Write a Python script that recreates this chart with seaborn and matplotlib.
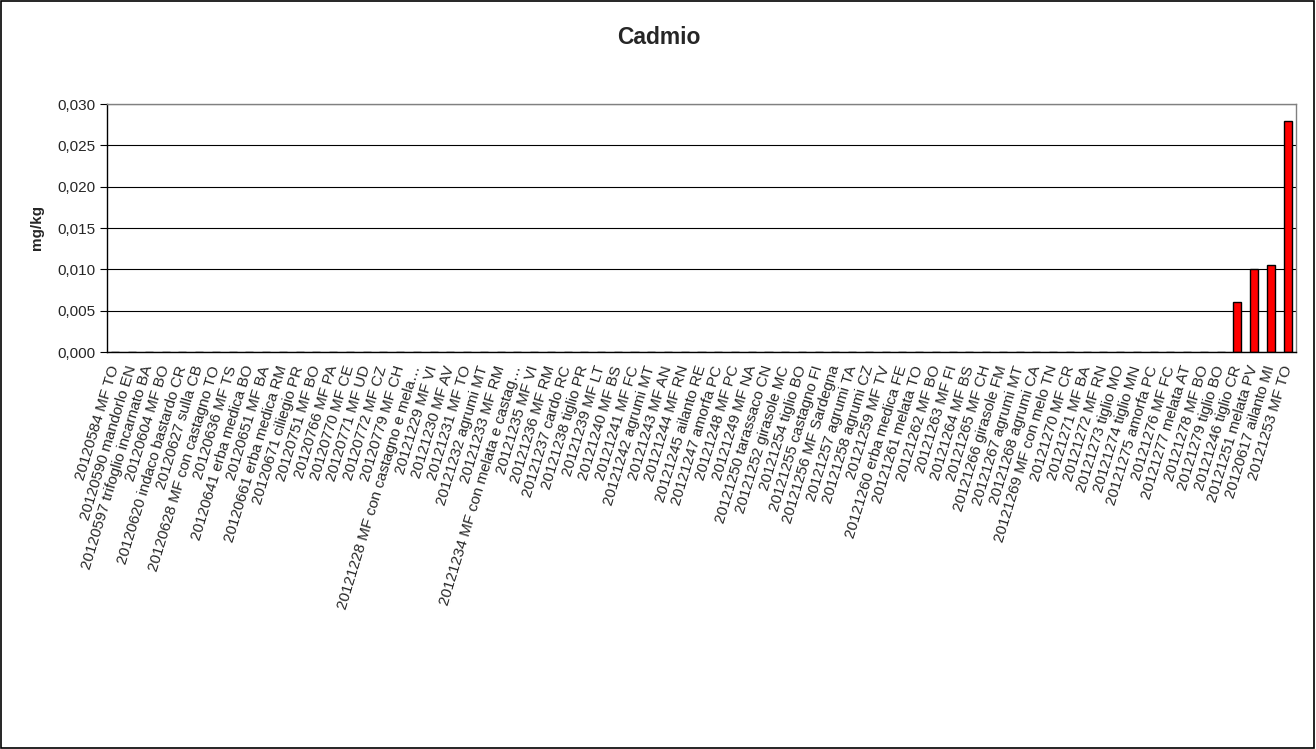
import matplotlib
matplotlib.use("Agg")
import matplotlib.pyplot as plt
import seaborn as sns
import pandas as pd
from matplotlib.patches import Rectangle
from matplotlib.ticker import FuncFormatter, MultipleLocator

campioni = [
    "20120584 MF TO", "20120590 mandorlo EN", "20120597 trifoglio incarnato BA",
    "20120604 MF BO", "20120620 indaco bastardo CR", "20120627 sulla CB",
    "20120628 MF con castagno TO", "20120636 MF TS", "20120641 erba medica BO",
    "20120651 MF BA", "20120661 erba medica RM", "20120671 ciliegio PR",
    "20120751 MF BO", "20120766 MF PA", "20120770 MF CE", "20120771 MF UD",
    "20120772 MF CZ", "20120779 MF CH", "20121228 MF con castagno e mela…",
    "20121229 MF VI", "20121230 MF AV", "20121231 MF TO", "20121232 agrumi MT",
    "20121233 MF RM", "20121234 MF con melata e castag…", "20121235 MF VI",
    "20121236 MF RM", "20121237 cardo RC", "20121238 tiglio PR", "20121239 MF LT",
    "20121240 MF BS", "20121241 MF FC", "20121242 agrumi MT", "20121243 MF AN",
    "20121244 MF RN", "20121245 ailanto RE", "20121247 amorfa PC",
    "20121248 MF PC", "20121249 MF NA", "20121250 tarassaco CN",
    "20121252 girasole MC", "20121254 tiglio BO", "20121255 castagno FI",
    "20121256 MF Sardegna", "20121257 agrumi TA", "20121258 agrumi CZ",
    "20121259 MF TV", "20121260 erba medica FE", "20121261 melata TO",
    "20121262 MF BO", "20121263 MF FI", "20121264 MF BS", "20121265 MF CH",
    "20121266 girasole FM", "20121267 agrumi MT", "20121268 agrumi CA",
    "20121269 MF con melo TN", "20121270 MF CR", "20121271 MF BA",
    "20121272 MF RN", "20121273 tiglio MO", "20121274 tiglio MN",
    "20121275 amorfa PC", "20121276 MF FC", "20121277 melata AT",
    "20121278 MF BO", "20121279 tiglio BO", "20121246 tiglio CR",
    "20121251 melata PV", "20120617 ailanto MI", "20121253 MF TO",
]
cadmio = [0.0] * 67 + [0.006, 0.010, 0.0105, 0.028]

df = pd.DataFrame({"campione": campioni, "cadmio": cadmio})

sns.set_theme(style="white")
plt.rcParams["font.family"] = ["Liberation Sans", "DejaVu Sans"]

fig = plt.figure(figsize=(13.16, 7.49), dpi=100)
ax = fig.add_axes([107 / 1316, 1 - 352 / 749, (1296 - 107) / 1316, (352 - 104) / 749])

sns.barplot(data=df, x="campione", y="cadmio", color="#ff0000",
            edgecolor="black", linewidth=1.0, width=0.48, saturation=1, ax=ax)

ax.set_ylim(0, 0.030)
ax.set_xlim(-0.5, len(campioni) - 0.5)
ax.yaxis.set_major_locator(MultipleLocator(0.005))
ax.yaxis.set_major_formatter(FuncFormatter(lambda v, _: f"{v:.3f}".replace(".", ",")))
ax.grid(axis="y", color="black", linewidth=0.8)
ax.set_axisbelow(True)

for side in ("top", "right"):
    ax.spines[side].set_color("#808080")
    ax.spines[side].set_linewidth(1.0)
for side in ("left", "bottom"):
    ax.spines[side].set_color("black")
    ax.spines[side].set_linewidth(1.0)

ax.tick_params(axis="y", which="major", left=True, length=5, width=0.8,
               color="black", labelsize=11, pad=3)
ax.tick_params(axis="x", bottom=False, labelsize=11, pad=4)
plt.setp(ax.get_xticklabels(), rotation=73, ha="right", va="center",
         rotation_mode="anchor")

ax.set_xlabel("")
ax.set_ylabel("mg/kg", fontsize=11, fontweight="bold")
ax.yaxis.set_label_coords(-63 / 1189, 0.5)

fig.text(659 / 1316, 1 - 38 / 749, "Cadmio", ha="center", va="center",
         fontsize=16.5, fontweight="bold")

fig.patches.append(Rectangle((0.0005, 0.001), 0.998, 0.997, transform=fig.transFigure,
                             fill=False, edgecolor="black", linewidth=1.2))

fig.savefig("out.png", dpi=100, facecolor="white")
